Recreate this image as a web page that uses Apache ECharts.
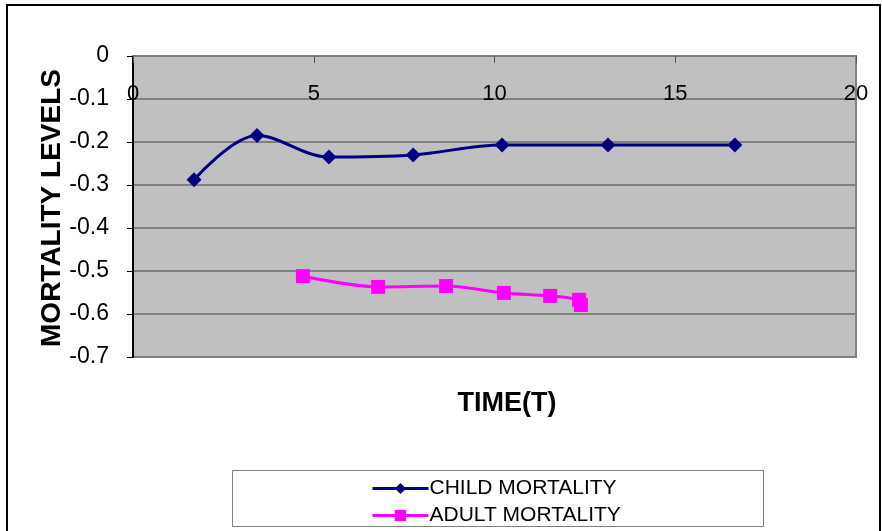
<!DOCTYPE html>
<html>
<head>
<meta charset="utf-8">
<script src="https://cdn.jsdelivr.net/npm/echarts@6/dist/echarts.min.js"></script>
<style>
  html, body { margin: 0; padding: 0; background: #ffffff; }
  #chart { width: 882px; height: 531px; }
</style>
</head>
<body>
<div id="chart"></div>
<script>
// Mortality levels over time (T)
const childTime = [1.69, 3.43, 5.42, 7.75, 10.21, 13.14, 16.65];
const childLevel = [-0.288, -0.185, -0.235, -0.230, -0.207, -0.207, -0.207];

const adultTime = [4.70, 6.78, 8.66, 10.26, 11.54, 12.34, 12.39];
const adultLevel = [-0.512, -0.537, -0.535, -0.551, -0.558, -0.567, -0.579];

const seriesNames = ['CHILD MORTALITY', 'ADULT MORTALITY'];
const xTitle = 'TIME(T)';
const yTitle = 'MORTALITY LEVELS';

const pairs = (xs, ys) => xs.map((x, i) => [x, ys[i]]);

const FONT = 'Liberation Sans, Arial, sans-serif';

const chart = echarts.init(document.getElementById('chart'));
chart.setOption({
  animation: false,
  backgroundColor: '#ffffff',
  grid: {
    left: 133, top: 56, right: 26, bottom: 174,
    show: true,
    backgroundColor: '#c0c0c0',
    borderColor: '#808080',
    borderWidth: 2
  },
  xAxis: {
    type: 'value',
    position: 'top',
    min: 0, max: 20, interval: 5,
    axisLine: { show: true, onZero: false, lineStyle: { color: '#7a7a7a', width: 2 } },
    axisTick: { show: true, inside: true, length: 7, lineStyle: { color: '#555555', width: 1 } },
    axisLabel: {
      inside: true, margin: 27,
      color: '#000000', fontFamily: FONT, fontSize: 22,
      showMinLabel: true, showMaxLabel: true
    },
    splitLine: { show: false }
  },
  yAxis: {
    type: 'value',
    min: -0.7, max: 0, interval: 0.1,
    axisLine: { show: true, lineStyle: { color: '#000000', width: 2 } },
    axisTick: { show: true, length: 6, lineStyle: { color: '#000000', width: 1 } },
    axisLabel: {
      margin: 24,
      color: '#000000', fontFamily: FONT, fontSize: 23,
      formatter: v => (Math.abs(v) < 1e-9 ? '0' : v.toFixed(1))
    },
    splitLine: { show: true, lineStyle: { color: '#808080', width: 2 } }
  },
  legend: {
    orient: 'vertical',
    left: 366, top: 473,
    itemWidth: 56, itemHeight: 14, itemGap: 6,
    lineStyle: { width: 3 },
    textStyle: { color: '#000000', fontFamily: FONT, fontSize: 21, padding: [0, 0, 0, -4] },
    data: seriesNames
  },
  graphic: [
    {
      type: 'rect', silent: true, z: -1,
      shape: { x: 7, y: 5, width: 873, height: 540 },
      style: { fill: 'none', stroke: '#000000', lineWidth: 2 }
    },
    {
      type: 'rect', silent: true,
      shape: { x: 232.5, y: 470.5, width: 531, height: 56 },
      style: { fill: '#ffffff', stroke: '#808080', lineWidth: 1 },
      z: -1
    },
    {
      type: 'text', silent: true,
      x: 52, y: 208, rotation: Math.PI / 2,
      style: {
        text: yTitle, fill: '#000000', fontFamily: FONT,
        fontSize: 28, fontWeight: 'bold', align: 'center', verticalAlign: 'middle'
      }
    },
    {
      type: 'text', silent: true,
      x: 507, y: 404,
      style: {
        text: xTitle, fill: '#000000', fontFamily: FONT,
        fontSize: 27, fontWeight: 'bold', align: 'center', verticalAlign: 'middle'
      }
    }
  ],
  series: [
    {
      name: seriesNames[0],
      type: 'line',
      smooth: 0.35,
      data: pairs(childTime, childLevel),
      symbol: 'diamond', symbolSize: 15,
      lineStyle: { color: '#000080', width: 3 },
      itemStyle: { color: '#000080' }
    },
    {
      name: seriesNames[1],
      type: 'line',
      smooth: 0.3,
      data: pairs(adultTime, adultLevel),
      symbol: 'rect', symbolSize: 14,
      lineStyle: { color: '#ff00ff', width: 3 },
      itemStyle: { color: '#ff00ff' }
    }
  ]
});
</script>
</body>
</html>
